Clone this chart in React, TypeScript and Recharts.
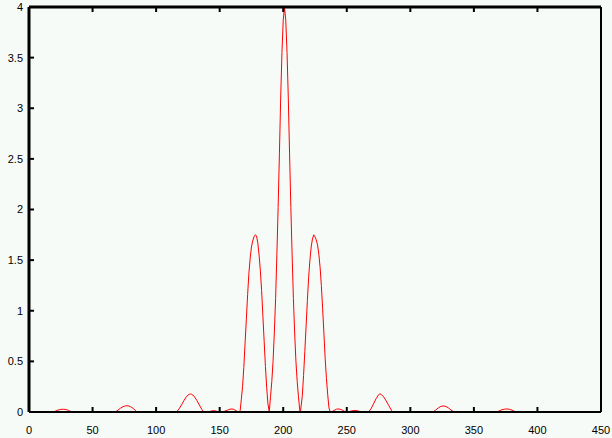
import { Line, LineChart, XAxis, YAxis } from "recharts";

// values, lobe by lobe (x position, intensity)
const farLeftX = [0, 5, 10, 15, 19, 21, 23, 25, 27, 29, 31, 33, 34, 40, 47, 55, 62, 68, 70, 72, 74, 76, 77, 78, 80, 82, 84, 85, 92, 100, 108, 116];
const farLeftY = [0, 0.002, 0.004, 0.001, 0, 0.01, 0.02, 0.026, 0.027, 0.025, 0.016, 0.004, 0, 0.003, 0.001, 0, 0.003, 0, 0.018, 0.038, 0.053, 0.061, 0.062, 0.061, 0.052, 0.035, 0.012, 0, 0.002, 0, 0.003, 0];

const nearLeftX = [118, 120, 122, 124, 126, 127, 128, 130, 132, 134, 136, 137.5, 141, 143, 145, 147, 149, 151, 153, 155, 157, 159, 161, 163, 164.5];
const nearLeftY = [0.03, 0.07, 0.115, 0.155, 0.175, 0.178, 0.175, 0.155, 0.115, 0.07, 0.025, 0, 0, 0.008, 0.014, 0.01, 0.002, 0, 0.004, 0.012, 0.024, 0.03, 0.027, 0.012, 0];

const sideLeftX = [166, 167, 168, 169, 170, 171, 172, 173, 174, 175, 176, 177, 178, 179, 180, 181, 182, 183, 184, 185, 186, 187, 188, 189];
const sideLeftY = [0, 0.12, 0.25, 0.44, 0.68, 0.92, 1.16, 1.37, 1.52, 1.63, 1.69, 1.73, 1.75, 1.74, 1.67, 1.55, 1.4, 1.2, 0.95, 0.7, 0.45, 0.24, 0.08, 0];

const centreX = [190, 191, 192, 193, 194, 195, 196, 197, 198, 199, 200, 201, 202, 203, 204, 205, 206, 207, 208, 209, 210, 211, 212, 213, 213.5];
const centreY = [0.15, 0.3, 0.5, 0.78, 1.12, 1.55, 2.02, 2.55, 3.1, 3.55, 3.87, 4.0, 3.87, 3.55, 3.1, 2.55, 2.02, 1.55, 1.12, 0.78, 0.5, 0.3, 0.15, 0.02, 0];

const sideRightX = [214, 215, 216, 217, 218, 219, 220, 221, 222, 223, 224, 225, 226, 227, 228, 229, 230, 231, 232, 233, 234, 235, 236, 237];
const sideRightY = [0.05, 0.16, 0.36, 0.6, 0.85, 1.1, 1.33, 1.5, 1.63, 1.71, 1.75, 1.73, 1.7, 1.65, 1.56, 1.43, 1.25, 1.02, 0.78, 0.53, 0.33, 0.17, 0.04, 0];

const nearRightX = [238, 240, 242, 244, 246, 248, 249.5, 251, 253, 255, 257, 259, 261, 262, 265, 267, 269, 271, 273, 275, 276, 277, 279, 281, 283, 285, 286];
const nearRightY = [0, 0.015, 0.028, 0.03, 0.022, 0.008, 0, 0.002, 0.008, 0.014, 0.016, 0.01, 0.003, 0, 0, 0, 0.03, 0.08, 0.13, 0.17, 0.178, 0.175, 0.15, 0.11, 0.065, 0.02, 0];

const farRightX = [293, 300, 308, 314, 318, 320, 322, 324, 326, 328, 330, 332, 334, 335, 342, 350, 358, 364, 368, 370, 372, 374, 376, 378, 380, 382, 383, 390, 395, 400];
const farRightY = [0.003, 0, 0.002, 0, 0, 0.02, 0.04, 0.055, 0.06, 0.055, 0.04, 0.02, 0.003, 0, 0.002, 0, 0.002, 0, 0, 0.012, 0.022, 0.028, 0.03, 0.027, 0.018, 0.006, 0, 0.003, 0, 0];

const xTicks = [0, 50, 100, 150, 200, 250, 300, 350, 400, 450];
const yTicks = [0, 0.5, 1, 1.5, 2, 2.5, 3, 3.5, 4];

const xs = [...farLeftX, ...nearLeftX, ...sideLeftX, ...centreX, ...sideRightX, ...nearRightX, ...farRightX];
const ys = [...farLeftY, ...nearLeftY, ...sideLeftY, ...centreY, ...sideRightY, ...nearRightY, ...farRightY];
const data = xs.map((x, i) => ({ x, y: ys[i] }));

const tickFont = { fill: "#000", fontSize: 11, fontFamily: "Liberation Sans" };
const noLabel = () => null;

export default function App() {
  return (
    <div
      style={{
        position: "absolute",
        left: 0,
        top: 0,
        width: 612,
        height: 438,
        background: "#f7fbf7",
      }}
    >
      <LineChart
        width={612}
        height={438}
        data={data}
        margin={{ top: 0, right: 0, bottom: 0, left: 1 }}
      >
        <XAxis
          xAxisId="bottom"
          dataKey="x"
          type="number"
          domain={[0, 450]}
          ticks={xTicks}
          height={26}
          tick={tickFont}
          tickSize={-5}
          tickMargin={19}
          axisLine={{ stroke: "#000", strokeWidth: 2 }}
          tickLine={{ stroke: "#000", strokeWidth: 2 }}
        />
        <XAxis
          xAxisId="top"
          orientation="top"
          dataKey="x"
          type="number"
          domain={[0, 450]}
          ticks={xTicks}
          height={7}
          tick={noLabel}
          tickSize={-5}
          axisLine={{ stroke: "#000", strokeWidth: 3 }}
          tickLine={{ stroke: "#000", strokeWidth: 2 }}
        />
        <YAxis
          yAxisId="left"
          type="number"
          domain={[0, 4]}
          ticks={yTicks}
          width={28}
          tick={tickFont}
          tickSize={-5}
          tickMargin={11}
          axisLine={{ stroke: "#000", strokeWidth: 3 }}
          tickLine={{ stroke: "#000", strokeWidth: 2 }}
        />
        <YAxis
          yAxisId="right"
          orientation="right"
          type="number"
          domain={[0, 4]}
          ticks={yTicks}
          width={11}
          tick={noLabel}
          tickSize={-5}
          axisLine={{ stroke: "#000", strokeWidth: 2 }}
          tickLine={{ stroke: "#000", strokeWidth: 2 }}
        />
        <Line
          xAxisId="bottom"
          yAxisId="left"
          type="linear"
          dataKey="y"
          stroke="#ff0000"
          strokeWidth={1}
          dot={false}
          isAnimationActive={false}
        />
      </LineChart>
    </div>
  );
}
